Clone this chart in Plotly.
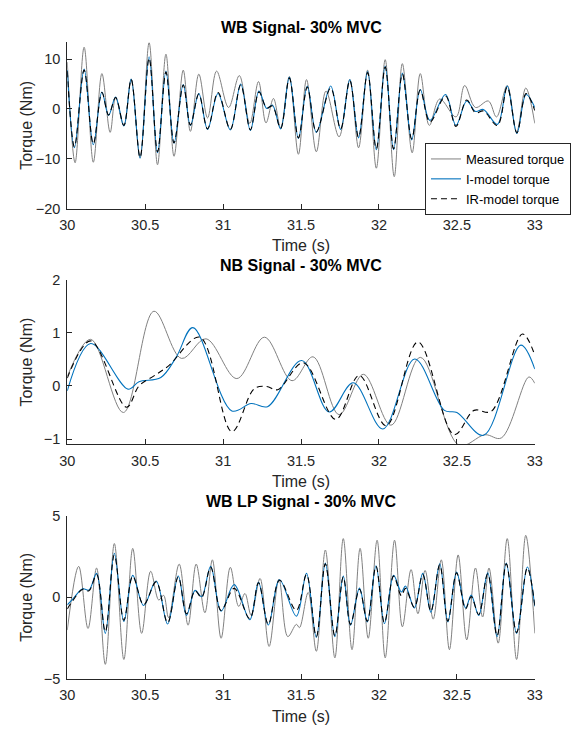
import plotly.graph_objects as go

# ---------------- Data ----------------
# Panel 1: WB Signal - 30% MVC
t_meas_wb = [30.0, 30.05, 30.108, 30.167, 30.222, 30.275, 30.31, 30.363, 30.41, 30.467, 30.525, 30.579,
             30.633, 30.685, 30.744, 30.79, 30.844, 30.9, 30.958, 31.035, 31.104, 31.171, 31.227, 31.275,
             31.323, 31.369, 31.425, 31.483, 31.535, 31.598, 31.66, 31.744, 31.813, 31.869, 31.927, 31.983,
             32.04, 32.098, 32.15, 32.213, 32.265, 32.323, 32.39, 32.494, 32.55, 32.619, 32.702, 32.754,
             32.823, 32.883, 32.942, 33.0]
v_meas_wb = [9.4, -10.8, 12.4, -10.7, 7.1, -4.7, 2.3, -3.4, 6.0, -9.8, 13.3, -11.2,
             11.0, -9.5, 7.8, -4.5, 7.0, -1.8, 7.6, 0.3, 6.7, -2.9, 5.5, -2.8,
             2.1, -3.8, 6.5, -9.1, 5.9, -8.6, 3.6, -5.6, 5.9, -7.8, 7.8, -11.9,
             9.9, -13.6, 9.1, -8.8, 7.1, -3.3, 2.0, -1.6, 4.7, 0.3, 1.6, -1.6,
             4.7, -4.6, 4.2, -2.9]

t_imod_wb = [30.0, 30.046, 30.108, 30.167, 30.222, 30.265, 30.31, 30.363, 30.41, 30.467, 30.525, 30.579,
             30.633, 30.685, 30.744, 30.79, 30.844, 30.9, 30.967, 31.046, 31.113, 31.175, 31.23, 31.28,
             31.316, 31.369, 31.425, 31.483, 31.54, 31.598, 31.69, 31.754, 31.813, 31.869, 31.927, 31.983,
             32.04, 32.094, 32.15, 32.21, 32.265, 32.327, 32.427, 32.494, 32.563, 32.62, 32.67, 32.76,
             32.823, 32.885, 32.944, 33.0]
v_imod_wb = [7.8, -7.8, 8.0, -7.2, 3.4, -1.3, 2.4, -3.4, 6.0, -9.9, 10.5, -8.8,
             7.6, -6.9, 4.9, -3.3, 3.1, -4.1, 3.1, -4.2, 5.0, -4.3, 3.6, 0.1,
             0.8, -4.0, 6.4, -5.9, 4.6, -4.7, 4.6, -4.1, 5.9, -5.8, 7.5, -8.2,
             8.6, -8.2, 7.2, -6.2, 3.9, -2.3, 2.9, -3.3, 1.6, -0.5, -0.1, -3.1,
             4.6, -4.9, 2.9, 0.3]

t_irmod_wb = t_imod_wb
v_irmod_wb = [7.6, -7.6, 7.8, -7.0, 3.3, -1.2, 2.3, -3.3, 5.9, -9.7, 10.2, -8.6,
              7.4, -6.8, 4.8, -3.2, 3.0, -4.0, 3.3, -4.1, 4.8, -4.2, 3.4, 0.2,
              0.6, -3.9, 6.2, -5.8, 4.4, -4.6, 4.2, -4.0, 5.7, -5.7, 7.3, -8.0,
              8.4, -8.0, 7.0, -6.0, 3.8, -2.6, 2.6, -3.5, 1.8, -0.8, -0.4, -3.3,
              4.4, -4.8, 3.1, -0.3]

# Panel 2: NB Signal - 30% MVC
t_meas_nb = [30.0, 30.15, 30.36, 30.556, 30.733, 30.89, 31.088, 31.265, 31.442, 31.577, 31.744, 31.9,
             32.077, 32.265, 32.515, 32.68, 32.785, 32.962, 33.0]
v_meas_nb = [0.18, 0.88, -0.50, 1.41, 0.52, 0.89, 0.14, 0.92, 0.10, 0.55, -0.54, 0.22,
             -0.74, 0.54, -1.12, -0.92, -0.98, 0.17, 0.05]

t_imod_nb = [30.0, 30.15, 30.39, 30.46, 30.6, 30.7, 30.806, 31.056, 31.18, 31.285, 31.504, 31.681,
             31.835, 32.025, 32.229, 32.42, 32.5, 32.671, 32.91, 33.0]
v_imod_nb = [-0.09, 0.80, -0.06, 0.08, 0.16, 0.55, 1.10, -0.47, -0.33, -0.39, 0.48, -0.49,
             0.06, -0.81, 0.51, -0.46, -0.50, -0.93, 0.77, 0.32]

t_irmod_nb = [30.0, 30.15, 30.38, 30.46, 30.556, 30.65, 30.85, 31.056, 31.2, 31.28, 31.35, 31.515,
              31.723, 31.873, 32.046, 32.25, 32.483, 32.61, 32.72, 32.921, 33.0]
v_irmod_nb = [0.15, 0.85, -0.40, 0.0, 0.19, 0.38, 0.92, -0.86, -0.05, -0.01, -0.07, 0.44,
              -0.63, 0.20, -0.75, 0.83, -0.92, -0.46, -0.48, 0.98, 0.58]

# Panel 3: WB LP Signal - 30% MVC
t_meas_lp = [30.0, 30.073, 30.133, 30.188, 30.244, 30.302, 30.363, 30.42, 30.477, 30.535, 30.587, 30.618,
             30.65, 30.718, 30.775, 30.827, 30.883, 30.931, 30.987, 31.046, 31.1, 31.14, 31.18, 31.237,
             31.295, 31.358, 31.415, 31.47, 31.49, 31.546, 31.598, 31.656, 31.717, 31.771, 31.827, 31.879,
             31.931, 31.988, 32.04, 32.1, 32.15, 32.206, 32.25, 32.296, 32.348, 32.4, 32.452, 32.508,
             32.563, 32.619, 32.665, 32.706, 32.765, 32.823, 32.883, 32.942, 33.0]
v_meas_lp = [-2.0, 1.9, -1.9, 1.8, -4.1, 3.3, -3.8, 3.0, -2.2, 1.6, -0.16, 0.13,
             -1.24, 2.04, -1.7, 2.04, -0.94, 2.3, -2.5, 1.84, -0.55, 0.24, -1.1, 1.16,
             -3.0, 1.12, -2.4, -1.65, -1.85, 0.3, -3.3, 2.9, -3.7, 3.6, -3.2, 3.0,
             -2.5, 3.5, -3.7, 3.5, -1.8, 1.7, -1.0, 1.65, -1.33, 2.3, -3.2, 2.6,
             -2.6, 1.8, -1.2, 1.8, -2.8, 3.6, -3.8, 3.8, -2.2]

t_imod_lp = [30.0, 30.035, 30.099, 30.139, 30.188, 30.244, 30.302, 30.363, 30.42, 30.49, 30.57, 30.644,
             30.712, 30.765, 30.82, 30.862, 30.92, 30.987, 31.071, 31.171, 31.227, 31.29, 31.362, 31.47,
             31.535, 31.598, 31.656, 31.717, 31.771, 31.817, 31.875, 31.925, 31.981, 32.035, 32.094, 32.144,
             32.17, 32.227, 32.281, 32.333, 32.39, 32.442, 32.498, 32.556, 32.592, 32.64, 32.698, 32.758,
             32.817, 32.883, 32.952, 33.0]
v_imod_lp = [-0.45, -0.1, 0.53, 0.45, 1.47, -2.2, 2.7, -1.47, 1.35, -0.5, 1.0, -1.63,
             1.31, -1.1, 0.43, 0.04, 1.9, -0.84, 0.78, -1.37, 0.92, -1.69, 1.08, -1.15,
             1.47, -2.45, 2.1, -2.4, 1.3, -1.7, 0.57, -1.5, 1.94, -1.6, 1.35, 0.33,
             0.7, -0.65, 1.47, -0.9, 2.06, -1.5, 1.55, -0.65, 0.14, -1.1, 1.5, -2.4,
             2.1, -2.2, 1.86, -0.55]

t_irmod_lp = t_imod_lp
v_irmod_lp = [-0.7, -0.2, 0.5, 0.4, 1.4, -2.1, 2.6, -1.4, 1.3, -0.45, 0.95, -1.55,
              1.25, -1.0, 0.4, 0.0, 1.85, -0.8, 0.55, -1.3, 0.9, -1.65, 1.05, -0.8,
              1.4, -2.4, 2.05, -2.35, 1.25, -1.65, 0.5, -1.45, 1.9, -1.55, 1.3, 0.1,
              0.55, -0.6, 1.4, -0.85, 2.0, -1.45, 1.5, -0.7, 0.05, -1.05, 1.45, -2.35,
              2.05, -2.15, 1.8, -0.5]

# Axis settings
titles = ["WB Signal- 30% MVC", "NB Signal - 30% MVC", "WB LP Signal - 30% MVC"]
x_ticks = [30, 30.5, 31, 31.5, 32, 32.5, 33]
x_ticktext = ["30", "30.5", "31", "31.5", "32", "32.5", "33"]
y_ranges = [[-20, 13.4], [-1.1, 2], [-5, 5]]
y_ticks = [[-20, -10, 0, 10], [-1, 0, 1, 2], [-5, 0, 5]]
legend_names = ["Measured torque", "I-model torque", "IR-model torque"]

# ---------------- Figure ----------------
W, H = 571, 736
x_left, x_right = 61, 542
panels_px = [(35, 205), (278, 446), (519, 686)]  # (top, bottom) in pixels

AX = "#262626"
GRAY = "#808080"
BLUE = "#0072BD"

fig = go.Figure()

series = [
    (t_meas_wb, v_meas_wb, t_imod_wb, v_imod_wb, t_irmod_wb, v_irmod_wb),
    (t_meas_nb, v_meas_nb, t_imod_nb, v_imod_nb, t_irmod_nb, v_irmod_nb),
    (t_meas_lp, v_meas_lp, t_imod_lp, v_imod_lp, t_irmod_lp, v_irmod_lp),
]

for i, (tm, vm, ti, vi, tr, vr) in enumerate(series):
    xa = "x" if i == 0 else f"x{i+1}"
    ya = "y" if i == 0 else f"y{i+1}"
    show = (i == 0)
    fig.add_trace(go.Scatter(x=tm, y=vm, mode="lines", name=legend_names[0],
                             line=dict(color=GRAY, width=1, shape="spline", smoothing=1.0),
                             xaxis=xa, yaxis=ya, showlegend=show))
    fig.add_trace(go.Scatter(x=ti, y=vi, mode="lines", name=legend_names[1],
                             line=dict(color=BLUE, width=1.1, shape="spline", smoothing=1.0),
                             xaxis=xa, yaxis=ya, showlegend=show))
    fig.add_trace(go.Scatter(x=tr, y=vr, mode="lines", name=legend_names[2],
                             line=dict(color="black", width=1.1, dash="6px,4px", shape="spline", smoothing=1.0),
                             xaxis=xa, yaxis=ya, showlegend=show))

layout = dict(
    width=W, height=H,
    margin=dict(l=0, r=0, t=0, b=0),
    paper_bgcolor="white", plot_bgcolor="white",
    font=dict(family="Liberation Sans, Arial, sans-serif", color=AX),
    legend=dict(x=429 / W, xanchor="left", y=1 - 138 / H, yanchor="top",
                bordercolor=AX, borderwidth=1, bgcolor="white",
                font=dict(size=13, color="black"), tracegroupgap=0,
                itemwidth=30),
)

annotations = []
for i, (top, bot) in enumerate(panels_px):
    sfx = "" if i == 0 else str(i + 1)
    dom_y = [1 - bot / H, 1 - top / H]
    layout["xaxis" + sfx] = dict(
        domain=[x_left / W, x_right / W], range=[30, 33], anchor="y" + sfx,
        tickvals=x_ticks, ticktext=x_ticktext, ticks="inside", ticklen=5, tickcolor=AX,
        showline=True, linecolor=AX, linewidth=1, showgrid=False, zeroline=False,
        tickfont=dict(size=14.5, color=AX), ticklabelstandoff=3,
    )
    layout["yaxis" + sfx] = dict(
        domain=dom_y, range=y_ranges[i], anchor="x" + sfx,
        tickvals=y_ticks[i], ticks="inside", ticklen=5, tickcolor=AX,
        showline=True, linecolor=AX, linewidth=1, showgrid=False, zeroline=False,
        tickfont=dict(size=14.5, color=AX), ticklabelstandoff=3,
    )
    cx = (x_left + x_right) / 2 / W
    annotations.append(dict(text="<b>" + titles[i] + "</b>", x=cx, y=1 - (top - 15) / H,
                            xref="paper", yref="paper", showarrow=False,
                            xanchor="center", yanchor="middle",
                            font=dict(size=16, color="black")))
    annotations.append(dict(text="Time (s)", x=cx, y=1 - (bot + 38) / H,
                            xref="paper", yref="paper", showarrow=False,
                            xanchor="center", yanchor="middle",
                            font=dict(size=16, color=AX)))
    annotations.append(dict(text="Torque (Nm)", x=19 / W, y=1 - (top + bot) / 2 / H,
                            xref="paper", yref="paper", showarrow=False, textangle=-90,
                            xanchor="center", yanchor="middle",
                            font=dict(size=16, color=AX)))

layout["annotations"] = annotations
fig.update_layout(**layout)

fig.write_html("out.html")
